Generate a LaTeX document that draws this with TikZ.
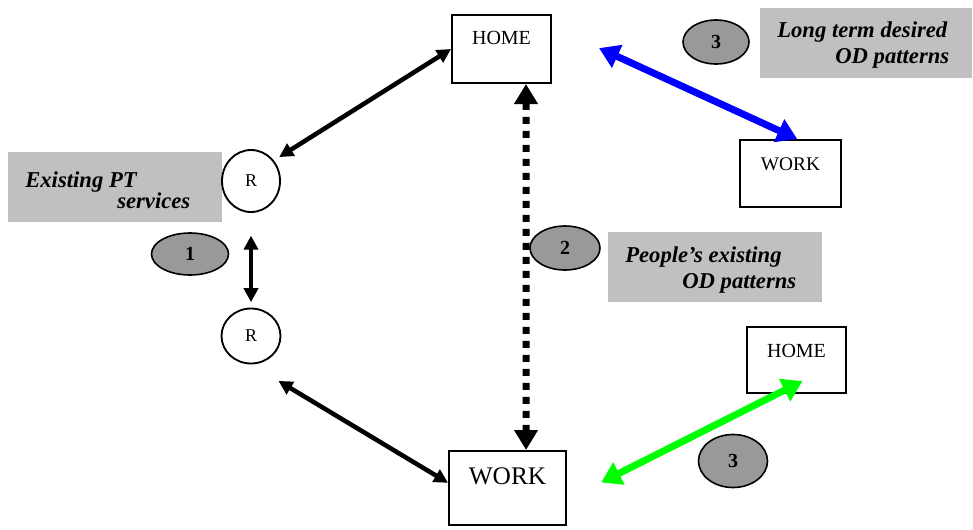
\documentclass[tikz,border=0pt]{standalone}
\usepackage{fontspec}
\setmainfont{Liberation Serif}
\usetikzlibrary{arrows.meta,
  shapes.geometric
}
\definecolor{notegray}{HTML}{C0C0C0}
\definecolor{taggray}{HTML}{999999}

\begin{document}
\begin{tikzpicture}[x=0.75pt, y=-0.75pt,
  place/.style={rectangle, draw, line width=1.5pt, inner sep=0pt},
  ring/.style={ellipse, draw, line width=1.4pt, inner sep=0pt, font=\fontsize{13.5}{13.5}\selectfont},
  tag/.style={ellipse, draw, line width=1.2pt, fill=taggray, inner sep=0pt, font=\fontsize{15}{15}\selectfont\bfseries},
  note/.style={rectangle, fill=notegray, inner sep=0pt},
  notetext/.style={anchor=base west, inner sep=0pt, font=\fontsize{17}{20}\selectfont\bfseries\itshape},
  link/.style={line width=3.4pt, {Triangle[length=10.5pt,width=10.5pt]}-{Triangle[length=10.5pt,width=10.5pt]}},
  wide/.style={line width=5.25pt, {Triangle[length=15pt,width=18pt]}-{Triangle[length=15pt,width=18pt]}}]
  \useasboundingbox (0,0) rectangle (973,529);

  % grey captions
  \node[note, minimum width=160.5pt, minimum height=52.5pt] (ptbox) at (115,187) {};
  \node[notetext] (pt1) at (25,187) {Existing PT};
  \node[notetext] (pt2) at (117,208) {services};
  \node[note, minimum width=160.5pt, minimum height=52.5pt] (odbox) at (715,267) {};
  \node[notetext] (od1) at (625,262) {People's existing};
  \node[notetext] (od2) at (682,288) {OD patterns};
  \node[note, minimum width=159pt, minimum height=52.5pt] (ltbox) at (866,42.5) {};
  \node[notetext] (lt1) at (777,37) {Long term desired};
  \node[notetext] (lt2) at (835,63) {OD patterns};

  % places
  \node[place, minimum width=74.25pt, text height=22.1pt, text depth=28.9pt, font=\fontsize{15}{15}\selectfont] (home1) at (501.5,49) {HOME};
  \node[place, minimum width=87.75pt, text height=24.75pt, text depth=30.75pt, font=\fontsize{19}{19}\selectfont] (work1) at (507.5,488) {WORK};
  \node[place, minimum width=75.75pt, text height=22.5pt, text depth=27.75pt, font=\fontsize{14.5}{14.5}\selectfont] (work2) at (790.5,173.5) {WORK};
  \node[place, minimum width=74.25pt, text height=22.5pt, text depth=27pt, font=\fontsize{15}{15}\selectfont] (home2) at (796.5,360) {HOME};

  \node[ring, minimum width=43.5pt, minimum height=46.5pt] (r1) at (251,181) {R};
  \node[ring, minimum width=44.25pt, minimum height=41.25pt] (r2) at (251,336) {R};

  % numbered tags
  \node[tag, minimum width=57.75pt, minimum height=31.5pt] (t1) at (190,254) {1};
  \node[tag, minimum width=52.5pt, minimum height=33pt] (t2) at (565,248) {2};
  \node[tag, minimum width=49.5pt, minimum height=33pt] (t3) at (716,42) {3};
  \node[tag, minimum width=51.75pt, minimum height=39.75pt] (t4) at (733,461) {3};

  \draw[link, shorten <=4.7pt] (r1.42) -- (home1.west);
  \draw[link, shorten <=17pt, shorten >=4pt] (r1.south) -- (r2.north);
  \draw[link, shorten <=24pt] (r2.south) -- (work1.175);
  \draw[wide, {Triangle[length=15pt,width=17pt]}-{Triangle[length=15pt,width=17pt]}, dash pattern=on 5.25pt off 5.25pt]
    (home1.-55.4) -- (work1.64.7);
  \draw[wide, blue, shorten <=38.8pt] (home1.24.6) -- (work2.79);
  \draw[wide, green, shorten <=28.6pt, shorten >=-21.5pt] (work1.-11.8) -- (home2.-120);

\end{tikzpicture}
\end{document}
